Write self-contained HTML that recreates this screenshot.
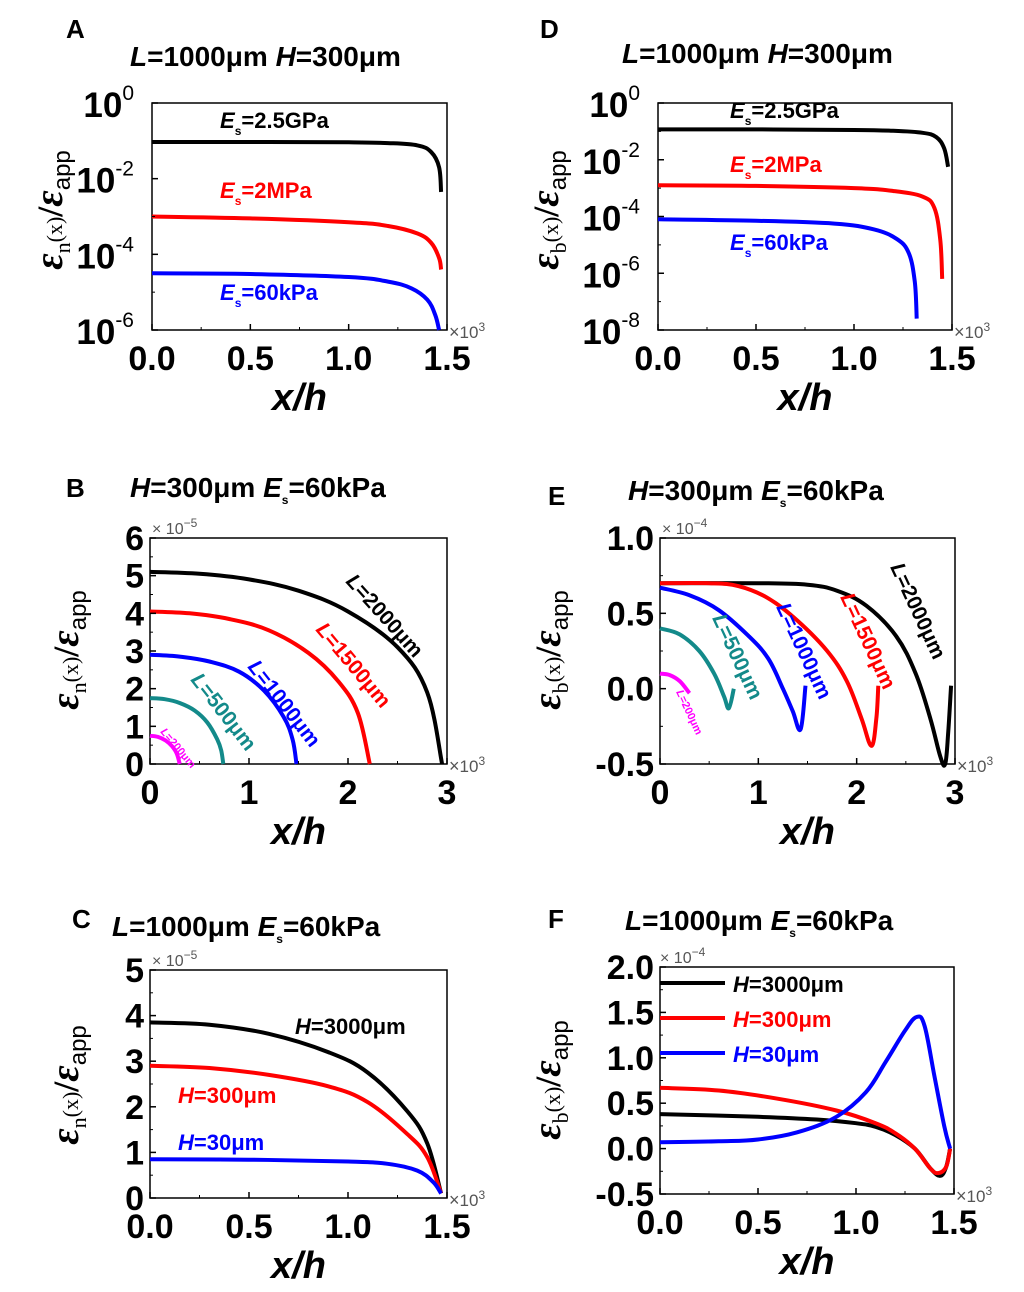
<!DOCTYPE html>
<html><head><meta charset="utf-8"><style>
html,body{margin:0;padding:0;background:#fff}
svg{display:block;font-family:"Liberation Sans",sans-serif}
</style></head><body>
<svg id="fig" width="1024" height="1292" viewBox="0 0 1024 1292" xmlns="http://www.w3.org/2000/svg"></svg>
<script>
// ---------- data ----------
// Panel A (log10 values)
const aBlackX=[0,0.5,1.0,1.2,1.35,1.42,1.46,1.47];
const aBlackY=[-1.03,-1.03,-1.04,-1.06,-1.12,-1.3,-1.7,-2.35];
const aRedX=[0,0.5,1.0,1.2,1.35,1.42,1.46,1.47];
const aRedY=[-3.0,-3.05,-3.15,-3.25,-3.45,-3.7,-4.1,-4.4];
const aBlueX=[0,0.5,1.0,1.2,1.32,1.4,1.44,1.46];
const aBlueY=[-4.5,-4.52,-4.6,-4.72,-4.9,-5.2,-5.6,-6.0];
// Panel D (log10 values)
const dBlackX=[0,0.5,1.0,1.2,1.35,1.42,1.46,1.48];
const dBlackY=[-0.93,-0.93,-0.95,-0.98,-1.05,-1.2,-1.6,-2.25];
const dRedX=[0,0.5,1.0,1.2,1.35,1.41,1.44,1.45];
const dRedY=[-2.9,-2.92,-3.0,-3.1,-3.3,-3.7,-4.8,-6.2];
const dBlueX=[0,0.5,0.9,1.1,1.22,1.28,1.31,1.32];
const dBlueY=[-4.1,-4.15,-4.25,-4.45,-4.8,-5.3,-6.3,-7.6];
// Panel B (x1e-5)
const bBlackX=[0,0.5,1,1.5,2,2.5,2.8,2.95];
const bBlackY=[5.1,5.05,4.9,4.6,4.05,3.1,1.9,0];
const bRedX=[0,0.4,0.8,1.2,1.6,1.9,2.1,2.22];
const bRedY=[4.05,4.0,3.85,3.55,2.95,2.2,1.35,0];
const bBlueX=[0,0.3,0.6,0.9,1.15,1.35,1.44,1.48];
const bBlueY=[2.9,2.85,2.72,2.45,1.95,1.25,0.65,0];
const bTealX=[0,0.15,0.3,0.45,0.58,0.68,0.72,0.74];
const bTealY=[1.75,1.72,1.62,1.42,1.1,0.65,0.35,0];
const bMagX=[0,0.08,0.16,0.22,0.27,0.3];
const bMagY=[0.75,0.72,0.62,0.48,0.28,0];
// Panel E (x1e-4)
const eBlackX=[0,1,1.5,1.8,2.1,2.4,2.6,2.75,2.85,2.9,2.93,2.96];
const eBlackY=[0.7,0.7,0.69,0.65,0.55,0.35,0.1,-0.2,-0.45,-0.5,-0.3,0.02];
const eRedX=[0,0.5,0.8,1.1,1.4,1.7,1.9,2.05,2.15,2.2,2.22];
const eRedY=[0.7,0.7,0.68,0.6,0.45,0.25,0.05,-0.2,-0.38,-0.2,0.02];
const eBlueX=[0,0.3,0.6,0.9,1.1,1.25,1.35,1.43,1.48];
const eBlueY=[0.67,0.62,0.52,0.35,0.2,0.0,-0.15,-0.27,0.02];
const eTealX=[0,0.2,0.4,0.55,0.65,0.7,0.75];
const eTealY=[0.4,0.36,0.25,0.1,-0.05,-0.13,0.0];
const eMagX=[0,0.1,0.2,0.3];
const eMagY=[0.1,0.09,0.05,-0.03];
// Panel C (x1e-5)
const cBlackX=[0,0.3,0.6,0.9,1.1,1.3,1.4,1.47];
const cBlackY=[3.85,3.8,3.6,3.2,2.75,1.9,1.2,0.1];
const cRedX=[0,0.3,0.6,0.9,1.1,1.3,1.4,1.47];
const cRedY=[2.9,2.85,2.7,2.45,2.1,1.4,0.9,0.1];
const cBlueX=[0,0.5,1.0,1.2,1.35,1.43,1.47];
const cBlueY=[0.85,0.84,0.8,0.75,0.6,0.35,0.1];
// Panel F (x1e-4)
const fBlackX=[0,0.5,0.8,1.0,1.1,1.2,1.3,1.38,1.43,1.46,1.48];
const fBlackY=[0.38,0.35,0.32,0.28,0.24,0.15,0.0,-0.22,-0.3,-0.2,0.0];
const fRedX=[0,0.3,0.6,0.9,1.1,1.2,1.3,1.38,1.42,1.46,1.48];
const fRedY=[0.67,0.64,0.55,0.42,0.28,0.17,0.0,-0.22,-0.27,-0.2,0.0];
const fBlueX=[0,0.3,0.5,0.7,0.9,1.05,1.15,1.25,1.31,1.35,1.4,1.45,1.48];
const fBlueY=[0.07,0.08,0.1,0.18,0.35,0.62,0.95,1.3,1.45,1.35,0.8,0.25,0.0];
// tick labels
const xTicks15=["0.0","0.5","1.0","1.5"];
const xTicks3=["0","1","2","3"];
const yTicksA=["0","-2","-4","-6"];
const yTicksD=["0","-2","-4","-6","-8"];
const yTicksB=["0","1","2","3","4","5","6"];
const yTicksC=["0","1","2","3","4","5"];
const yTicksE=["-0.5","0.0","0.5","1.0"];
const yTicksF=["-0.5","0.0","0.5","1.0","1.5","2.0"];

// ---------- helpers ----------
const NS="http://www.w3.org/2000/svg";
const svg=document.getElementById('fig');
function mk(tag,attrs,parent){const e=document.createElementNS(NS,tag);for(const k in attrs)e.setAttribute(k,attrs[k]);(parent||svg).appendChild(e);return e;}
function txt(x,y,html,size,opts){
  const t=mk('text',Object.assign({x:x,y:y,'font-size':size,'font-weight':'bold','fill':'#000'},opts||{}));
  t.innerHTML=html;return t;
}
function panel(id,box,xmin,xmax,ymin,ymax){
  const g=mk('g',{});
  
  
  const sx=v=>box.x0+(v-xmin)/(xmax-xmin)*(box.x1-box.x0);
  const sy=v=>box.y1-(v-ymin)/(ymax-ymin)*(box.y1-box.y0);
  const r=mk('rect',{x:box.x0,y:box.y0,width:box.x1-box.x0,height:box.y1-box.y0,fill:'none',stroke:'#000','stroke-width':1.5},g);
  
  
  return {g,sx,sy,box};
}
function curve(P,xs,ys,color,name){
  const pts=xs.map((x,i)=>[P.sx(x),P.sy(ys[i])]);
  let d='M'+pts[0][0].toFixed(1)+','+pts[0][1].toFixed(1);
  for(let i=0;i<pts.length-1;i++){
    const p0=pts[Math.max(0,i-1)],p1=pts[i],p2=pts[i+1],p3=pts[Math.min(pts.length-1,i+2)];
    const t=0.18;
    const c1=[p1[0]+(p2[0]-p0[0])*t,p1[1]+(p2[1]-p0[1])*t];
    const c2=[p2[0]-(p3[0]-p1[0])*t,p2[1]-(p3[1]-p1[1])*t];
    d+='C'+c1[0].toFixed(1)+','+c1[1].toFixed(1)+' '+c2[0].toFixed(1)+','+c2[1].toFixed(1)+' '+p2[0].toFixed(1)+','+p2[1].toFixed(1);
  }
  const p=mk('path',{d:d,fill:'none',stroke:color,'stroke-width':4,'stroke-linejoin':'round'},P.g);
  
  
}
function xAxis(P,labels,vals,id){
  labels.forEach((l,i)=>{
    const t=txt(P.sx(vals[i]),P.box.y1+40,l,34,{'text-anchor':'middle'});
    
    
    mk('line',{x1:P.sx(vals[i]),x2:P.sx(vals[i]),y1:P.box.y1,y2:P.box.y1-6,stroke:'#000','stroke-width':1.5},P.g);
    if(i<vals.length-1){const m=(vals[i]+vals[i+1])/2;mk('line',{x1:P.sx(m),x2:P.sx(m),y1:P.box.y1,y2:P.box.y1-3,stroke:'#000','stroke-width':1},P.g);}
  });
  const e=txt(P.box.x1+2,P.box.y1+8,'<tspan font-size="18">×</tspan>10<tspan dy="-7" font-size="12">3</tspan>',17,{'font-weight':'normal','fill':'#555'});
  
  
  const xt=txt((P.box.x0+P.box.x1)/2,P.box.y1+80,'x/h',38,{'text-anchor':'middle','font-style':'italic'});
  
  
}
function yAxis(P,labels,vals,id,log){
  labels.forEach((l,i)=>{
    const y=P.sy(vals[i]);
    const t=log?txt(P.box.x0-18,y+14,'10<tspan dy="-17" font-size="21" font-weight="normal">'+l+'</tspan>',35,{'text-anchor':'end'})
               :txt(P.box.x0-6,y+12,l,34,{'text-anchor':'end'});
    
    
    mk('line',{x1:P.box.x0,x2:P.box.x0+6,y1:y,y2:y,stroke:'#000','stroke-width':1.5},P.g);
    if(i<vals.length-1){const m=(vals[i]+vals[i+1])/2;mk('line',{x1:P.box.x0,x2:P.box.x0+3,y1:P.sy(m),y2:P.sy(m),stroke:'#000','stroke-width':1},P.g);}
  });
}
function yTitle(x,y,sub,id){
  const t=txt(0,0,'<tspan font-style="italic">ε</tspan><tspan dy="8" font-size="22" font-weight="normal">'+sub+'</tspan><tspan dy="-8" font-size="22" font-weight="normal">(x)</tspan><tspan font-size="36">/</tspan><tspan font-style="italic">ε</tspan><tspan dy="8" font-size="24" font-weight="normal" font-family="Liberation Sans">app</tspan>',40,{'text-anchor':'middle','transform':'translate('+x+','+y+') rotate(-90)','font-family':'"Liberation Serif",serif'});
  
  
}
function label(x,y,html,size,color,name,rot){
  const o={fill:color};
  if(rot){o.transform='rotate('+rot+' '+x+' '+y+')';}
  const t=txt(x,y,html,size,o);
  
  
}
const Es=(v)=>'<tspan font-style="italic">E</tspan><tspan dy="7" font-size="12">s</tspan><tspan dy="-7">'+v+'</tspan>';

// ---------- Panel A ----------
let P=panel('a',{x0:152,y0:103,x1:447,y1:330},0,1.5,-6,0);
curve(P,aBlackX,aBlackY,'#000','curve-a-2.5gpa');
curve(P,aRedX,aRedY,'#ff0000','curve-a-2mpa');
curve(P,aBlueX,aBlueY,'#0000ff','curve-a-60kpa');
xAxis(P,xTicks15,[0,0.5,1,1.5],'a');
yAxis(P,yTicksA,[0,-2,-4,-6],'a',true);
yTitle(62,210,'n','a');
label(66,38,'A',26,'#000','panel-label-a');
label(130,66,'<tspan font-style="italic">L</tspan>=1000μm <tspan font-style="italic">H</tspan>=300μm',28,'#000','title-a');
label(220,128,Es('=2.5GPa'),22,'#000','label-a-2.5gpa');
label(220,198,Es('=2MPa'),22,'#ff0000','label-a-2mpa');
label(220,300,Es('=60kPa'),22,'#0000ff','label-a-60kpa');

// ---------- Panel D ----------
P=panel('d',{x0:658,y0:103,x1:952,y1:330},0,1.5,-8,0);
curve(P,dBlackX,dBlackY,'#000','curve-d-2.5gpa');
curve(P,dRedX,dRedY,'#ff0000','curve-d-2mpa');
curve(P,dBlueX,dBlueY,'#0000ff','curve-d-60kpa');
xAxis(P,xTicks15,[0,0.5,1,1.5],'d');
yAxis(P,yTicksD,[0,-2,-4,-6,-8],'d',true);
yTitle(558,210,'b','d');
label(540,38,'D',26,'#000','panel-label-d');
label(622,63,'<tspan font-style="italic">L</tspan>=1000μm <tspan font-style="italic">H</tspan>=300μm',28,'#000','title-d');
label(730,118,Es('=2.5GPa'),22,'#000','label-d-2.5gpa');
label(730,172,Es('=2MPa'),22,'#ff0000','label-d-2mpa');
label(730,250,Es('=60kPa'),22,'#0000ff','label-d-60kpa');

// ---------- Panel B ----------
P=panel('b',{x0:150,y0:538,x1:447,y1:764},0,3,0,6);
curve(P,bBlackX,bBlackY,'#000','curve-b-2000');
curve(P,bRedX,bRedY,'#ff0000','curve-b-1500');
curve(P,bBlueX,bBlueY,'#0000ff','curve-b-1000');
curve(P,bTealX,bTealY,'#138a8a','curve-b-500');
curve(P,bMagX,bMagY,'#ff00ff','curve-b-200');
xAxis(P,xTicks3,[0,1,2,3],'b');
yAxis(P,yTicksB,[0,1,2,3,4,5,6],'b',false);
yTitle(78,650,'n','b');
label(66,497,'B',26,'#000','panel-label-b');
label(130,497,'<tspan font-style="italic">H</tspan>=300μm '+Es('=60kPa'),28,'#000','title-b');
label(152,534,'<tspan font-weight="normal" fill="#555" font-size="16">× 10<tspan dy="-7" font-size="12">−5</tspan></tspan>',16,'#555','y-exponent-b');
label(345,582,'<tspan font-style="italic">L</tspan>=2000μm',21,'#000','label-b-2000',48);
label(315,630,'<tspan font-style="italic">L</tspan>=1500μm',21,'#ff0000','label-b-1500',50);
label(247,667,'<tspan font-style="italic">L</tspan>=1000μm',21,'#0000ff','label-b-1000',52);
label(190,680,'<tspan font-style="italic">L</tspan>=500μm',21,'#138a8a','label-b-500',52);
label(160,732,'<tspan font-style="italic">L</tspan>=200μm',11,'#ff00ff','label-b-200',50);

// ---------- Panel E ----------
P=panel('e',{x0:660,y0:538,x1:955,y1:764},0,3,-0.5,1.0);
curve(P,eBlackX,eBlackY,'#000','curve-e-2000');
curve(P,eRedX,eRedY,'#ff0000','curve-e-1500');
curve(P,eBlueX,eBlueY,'#0000ff','curve-e-1000');
curve(P,eTealX,eTealY,'#138a8a','curve-e-500');
curve(P,eMagX,eMagY,'#ff00ff','curve-e-200');
xAxis(P,xTicks3,[0,1,2,3],'e');
yAxis(P,yTicksE,[-0.5,0,0.5,1.0],'e',false);
yTitle(560,650,'b','e');
label(548,505,'E',26,'#000','panel-label-e');
label(628,500,'<tspan font-style="italic">H</tspan>=300μm '+Es('=60kPa'),28,'#000','title-e');
label(662,534,'<tspan font-weight="normal" fill="#555" font-size="16">× 10<tspan dy="-7" font-size="12">−4</tspan></tspan>',16,'#555','y-exponent-e');
label(890,567,'<tspan font-style="italic">L</tspan>=2000μm',21,'#000','label-e-2000',65);
label(840,597,'<tspan font-style="italic">L</tspan>=1500μm',21,'#ff0000','label-e-1500',65);
label(776,607,'<tspan font-style="italic">L</tspan>=1000μm',21,'#0000ff','label-e-1000',65);
label(712,618,'<tspan font-style="italic">L</tspan>=500μm',21,'#138a8a','label-e-500',65);
label(676,692,'<tspan font-style="italic">L</tspan>=200μm',11,'#ff00ff','label-e-200',65);

// ---------- Panel C ----------
P=panel('c',{x0:150,y0:970,x1:447,y1:1198},0,1.5,0,5);
curve(P,cBlackX,cBlackY,'#000','curve-c-3000');
curve(P,cRedX,cRedY,'#ff0000','curve-c-300');
curve(P,cBlueX,cBlueY,'#0000ff','curve-c-30');
xAxis(P,xTicks15,[0,0.5,1,1.5],'c');
yAxis(P,yTicksC,[0,1,2,3,4,5],'c',false);
yTitle(78,1085,'n','c');
label(72,928,'C',26,'#000','panel-label-c');
label(112,936,'<tspan font-style="italic">L</tspan>=1000μm '+Es('=60kPa'),28,'#000','title-c');
label(152,966,'<tspan font-weight="normal" fill="#555" font-size="16">× 10<tspan dy="-7" font-size="12">−5</tspan></tspan>',16,'#555','y-exponent-c');
label(295,1034,'<tspan font-style="italic">H</tspan>=3000μm',22,'#000','label-c-3000');
label(178,1103,'<tspan font-style="italic">H</tspan>=300μm',22,'#ff0000','label-c-300');
label(178,1150,'<tspan font-style="italic">H</tspan>=30μm',22,'#0000ff','label-c-30');

// ---------- Panel F ----------
P=panel('f',{x0:660,y0:967,x1:954,y1:1194},0,1.5,-0.5,2.0);
curve(P,fBlackX,fBlackY,'#000','curve-f-3000');
curve(P,fRedX,fRedY,'#ff0000','curve-f-300');
curve(P,fBlueX,fBlueY,'#0000ff','curve-f-30');
xAxis(P,xTicks15,[0,0.5,1,1.5],'f');
yAxis(P,yTicksF,[-0.5,0,0.5,1.0,1.5,2.0],'f',false);
yTitle(560,1080,'b','f');
label(548,928,'F',26,'#000','panel-label-f');
label(625,930,'<tspan font-style="italic">L</tspan>=1000μm '+Es('=60kPa'),28,'#000','title-f');
label(660,963,'<tspan font-weight="normal" fill="#555" font-size="16">× 10<tspan dy="-7" font-size="12">−4</tspan></tspan>',16,'#555','y-exponent-f');
const legCols=['#000','#ff0000','#0000ff'];
const legText=['3000μm','300μm','30μm'];
legCols.forEach((c,i)=>{
  const y=983+i*35;
  const l=mk('line',{x1:660,x2:725,y1:y,y2:y,stroke:c,'stroke-width':4});
  
  
  label(733,y+9,'<tspan font-style="italic">H</tspan>='+legText[i],22,i?c:'#000','legend-entry-'+i);
});
</script>
</body></html>
